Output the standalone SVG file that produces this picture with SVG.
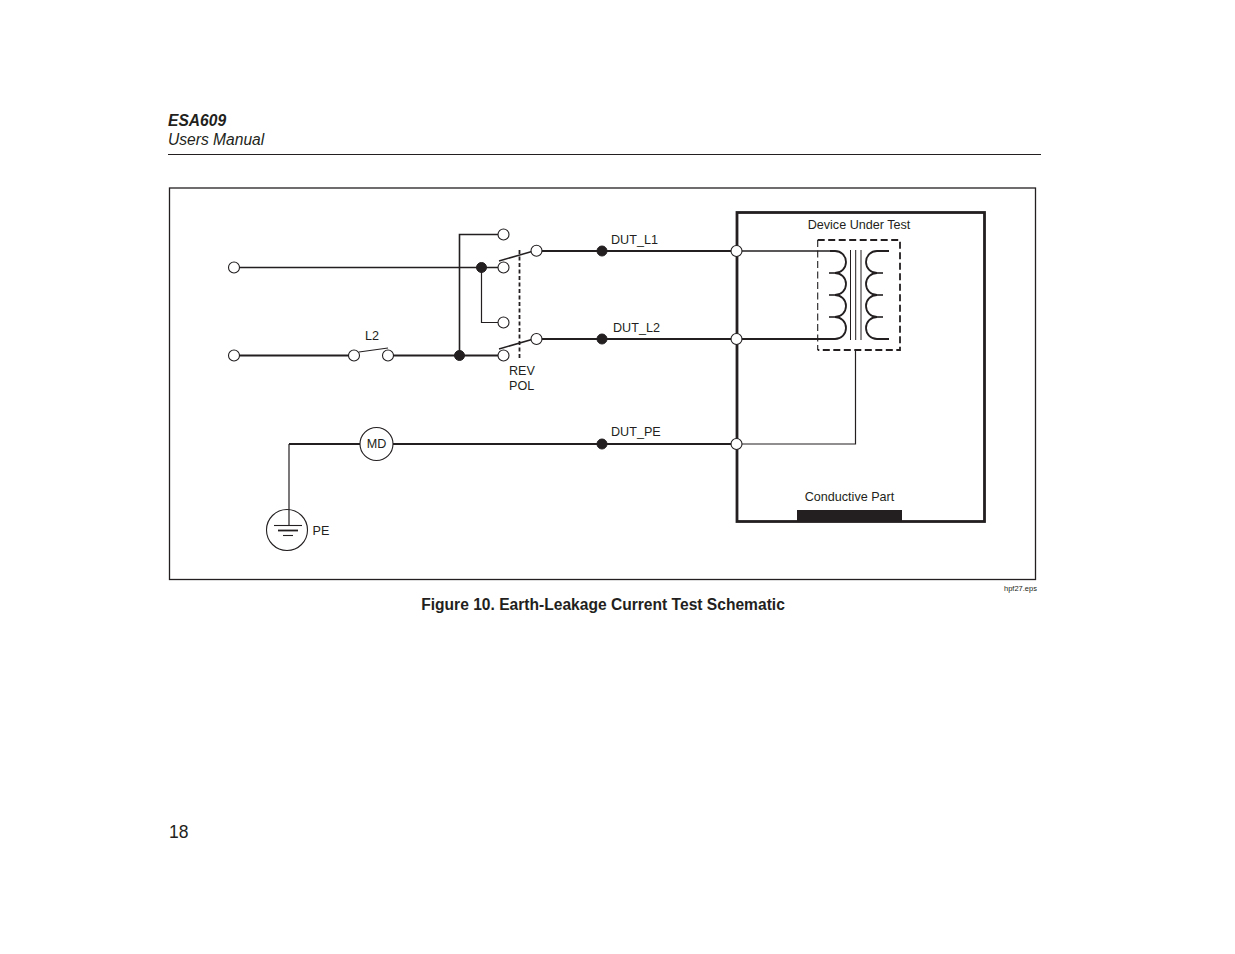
<svg xmlns="http://www.w3.org/2000/svg" width="1235" height="954" viewBox="0 0 1235 954">
<style>
text{font-family:"Liberation Sans",Arial,sans-serif;fill:#231f20}
.l{font-size:12.6px}
line,path,polyline,circle,.o{stroke:#231f20;fill:none}
.w1{stroke-width:1.2}
.w2{stroke-width:2}
.t{fill:#fff;stroke-width:1.1}
.d{fill:#231f20;stroke:#231f20;stroke-width:1}
.s{fill:#231f20;stroke:none}
.bg{fill:#fff;stroke:none}
</style>
<rect class="bg" width="1235" height="954"/>
<g id="header">
<text x="168" y="126" font-size="15.6" font-weight="bold" font-style="italic">ESA609</text>
<text x="168" y="145" font-size="15.6" font-style="italic">Users Manual</text>
<line x1="168" y1="154.5" x2="1041" y2="154.5" stroke-width="1.2"/>
</g>
<rect id="frame" class="o" x="169.5" y="188" width="866" height="391.5" stroke-width="1.3"/>
<g id="connectors">
<line x1="234" y1="267.5" x2="504" y2="267.5" stroke-width="1.5"/>
<line class="w2" x1="234" y1="355.5" x2="354" y2="355.5"/>
<line class="w2" x1="388" y1="355.5" x2="504" y2="355.5"/>
<polyline points="459.500,355 459.500,234.500 504,234.500" stroke-width="1.6"/>
<polyline class="w1" points="481.500,267 481.500,322.500 504,322.500"/>
<line class="w1" x1="359" y1="352" x2="388" y2="348"/>
<line x1="499" y1="261" x2="537" y2="250" stroke-width="1.5"/>
<line x1="499" y1="349" x2="537" y2="338" stroke-width="1.5"/>
<line x1="519.500" y1="250" x2="519.500" y2="360" stroke-width="1.8" stroke-dasharray="4 2.500"/>
<line class="w2" x1="537" y1="251" x2="737" y2="251"/>
<line class="w2" x1="537" y1="339" x2="737" y2="339"/>
<line class="w2" x1="289" y1="444" x2="360" y2="444"/>
<line class="w2" x1="393" y1="444" x2="737" y2="444"/>
<line class="w1" x1="289" y1="444" x2="289" y2="526"/>
<line x1="737" y1="251" x2="835" y2="251" stroke-width="1.5"/>
<line class="w2" x1="737" y1="339" x2="835" y2="339"/>
<polyline class="w1" points="737,444 855.500,444 855.500,350"/>
</g>
<g id="dut">
<rect class="o" x="737" y="212.500" width="247.500" height="309" stroke-width="2.800"/>
<rect class="s" x="797" y="510" width="105" height="11"/>
<text class="l" x="859" y="229" text-anchor="middle">Device Under Test</text>
<text class="l" x="849.500" y="501" text-anchor="middle">Conductive Part</text>
</g>
<g id="transformer">
<line x1="817.700" y1="240" x2="817.700" y2="350" stroke-width="1.1" stroke-dasharray="7 3.500"/>
<polyline points="817.700,240 900,240 900,350 817.700,350" stroke-width="1.8" stroke-dasharray="7 3.500"/>
<path d="M830 251H835A11 11 0 0 1 835 273A11 11 0 0 1 835 295A11 11 0 0 1 835 317A11 11 0 0 1 835 339H830" stroke-width="1.800"/>
<path d="M889 251H877A11 11 0 0 0 877 273A11 11 0 0 0 877 295A11 11 0 0 0 877 317A11 11 0 0 0 877 339H889" stroke-width="1.800"/>
<line x1="829" y1="273" x2="836" y2="273" stroke-width="1.600"/>
<line x1="829" y1="295" x2="836" y2="295" stroke-width="1.600"/>
<line x1="829" y1="317" x2="836" y2="317" stroke-width="1.600"/>
<line x1="876" y1="273" x2="883" y2="273" stroke-width="1.600"/>
<line x1="876" y1="295" x2="883" y2="295" stroke-width="1.600"/>
<line x1="876" y1="317" x2="883" y2="317" stroke-width="1.600"/>
<line x1="850.500" y1="250" x2="850.500" y2="340" stroke-width="1"/>
<line x1="855.700" y1="250" x2="855.700" y2="340" stroke-width="1"/>
<line x1="861" y1="250" x2="861" y2="340" stroke-width="1"/>
</g>
<g id="terminals">
<circle class="t" cx="234" cy="267.500" r="5.500"/>
<circle class="t" cx="234" cy="355.500" r="5.500"/>
<circle class="t" cx="354" cy="355.500" r="5.500"/>
<circle class="t" cx="388" cy="355.500" r="5.500"/>
<circle class="t" cx="503.500" cy="234.500" r="5.500"/>
<circle class="t" cx="503.500" cy="267.500" r="5.500"/>
<circle class="t" cx="503.500" cy="322.500" r="5.500"/>
<circle class="t" cx="503.500" cy="355.500" r="5.500"/>
<circle class="t" cx="536.500" cy="250.800" r="5.500"/>
<circle class="t" cx="536.500" cy="339" r="5.500"/>
<circle class="t" cx="736.500" cy="251" r="5.500"/>
<circle class="t" cx="736.500" cy="339" r="5.500"/>
<circle class="t" cx="736.500" cy="444" r="5.500"/>
</g>
<g id="junctions">
<circle class="d" cx="481.500" cy="267.500" r="5"/>
<circle class="d" cx="459.500" cy="355.500" r="5"/>
<circle class="d" cx="602" cy="251" r="5"/>
<circle class="d" cx="602" cy="339" r="5"/>
<circle class="d" cx="602" cy="444" r="5"/>
</g>
<g id="md">
<circle class="t" cx="376.500" cy="444" r="16.500"/>
<text class="l" x="376.500" y="448" text-anchor="middle">MD</text>
</g>
<g id="pe">
<circle cx="287" cy="530" r="20.500" stroke-width="1.100"/>
<line x1="274" y1="525.500" x2="302" y2="525.500" stroke-width="1.100"/>
<line x1="278" y1="530.500" x2="298" y2="530.500" stroke-width="1.800"/>
<line x1="283" y1="535.500" x2="293" y2="535.500" stroke-width="1.100"/>
<text class="l" x="312.500" y="535">PE</text>
</g>
<g id="labels">
<text class="l" x="365" y="340">L2</text>
<text class="l" x="509" y="375">REV</text>
<text class="l" x="509" y="390">POL</text>
<text class="l" x="611" y="244">DUT_L1</text>
<text class="l" x="613" y="332">DUT_L2</text>
<text class="l" x="611" y="436">DUT_PE</text>
<text x="1004" y="591" font-size="7.500">hpf27.eps</text>
<text x="603" y="610" font-size="15.600" font-weight="bold" text-anchor="middle">Figure 10. Earth-Leakage Current Test Schematic</text>
<text x="169" y="838" font-size="17.500">18</text>
</g>
</svg>
